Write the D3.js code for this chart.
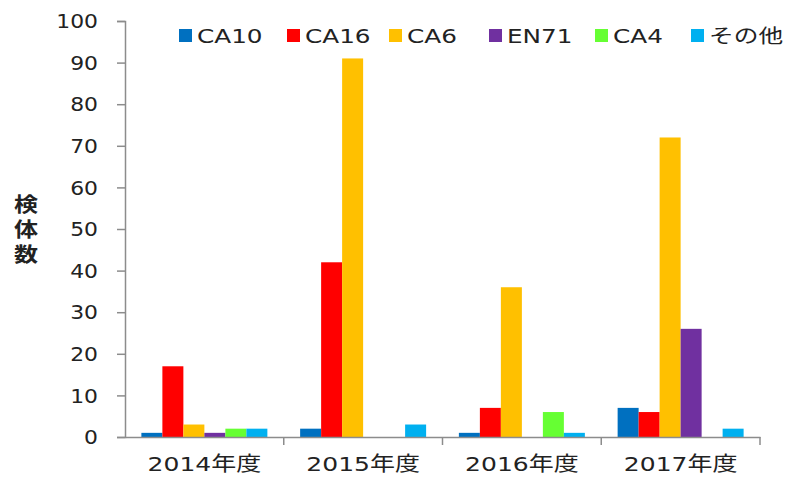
<!DOCTYPE html>
<html>
<head>
<meta charset="utf-8">
<script src="https://cdn.jsdelivr.net/npm/d3@7"></script>
<style>
body{margin:0;background:#fff;}
text{font-family:"DejaVu Sans","Noto Sans CJK JP",sans-serif;fill:#222;}
</style>
</head>
<body>
<svg class="chart"></svg>
<script>
var W = 795, H = 477;

// data
var years = ["2014年度","2015年度","2016年度","2017年度"];
var series = ["CA10","CA16","CA6","EN71","CA4","その他"];
var colors = ["#0070C0","#FF0000","#FFC000","#7030A0","#66FF33","#00B0F0"];
var CA10 = [1,2,1,7];
var CA16 = [17,42,7,6];
var CA6 = [3,91,36,72];
var EN71 = [1,0,0,26];
var CA4 = [2,0,6,0];
var other = [2,3,1,2];
var yTicks = [0,10,20,30,40,50,60,70,80,90,100];

var values = [CA10,CA16,CA6,EN71,CA4,other];

var svg = d3.select(".chart").attr("width",W).attr("height",H);

var mLeft = 125, mRight = 760, mTop = 21, mBottom = 437;

// the source picture is a bit wide, so stretch the texts sideways
var stretch = function(sel,k){
  sel.each(function(){
    var len = this.getComputedTextLength();
    d3.select(this).attr("textLength",len*k).attr("lengthAdjust","spacingAndGlyphs");
  });
};

var x0 = d3.scaleBand().domain(years).range([mLeft,mRight]).padding(0);
var x1 = d3.scaleBand().domain(series).range([0,x0.bandwidth()]).paddingOuter(0.78).paddingInner(0);
var y = d3.scaleLinear().domain([0,100]).range([mBottom,mTop]);

// bars
var groups = svg.selectAll("g.year")
  .data(years)
  .enter().append("g")
  .attr("class","year")
  .attr("transform",function(d){return "translate("+x0(d)+",0)";});

groups.selectAll("rect")
  .data(function(d,i){
    return series.map(function(s,k){return {s:s,v:values[k][i],c:colors[k]};});
  })
  .enter().append("rect")
  .attr("x",function(d){return x1(d.s);})
  .attr("width",x1.bandwidth())
  .attr("y",function(d){return y(d.v);})
  .attr("height",function(d){return mBottom-y(d.v);})
  .attr("fill",function(d){return d.c;});

// y axis
var yAxis = d3.axisLeft(y).tickValues(yTicks).tickSize(8).tickPadding(19);
var gy = svg.append("g").attr("transform","translate("+mLeft+",0)").call(yAxis);
gy.select(".domain").attr("stroke","#8c8c8c").attr("stroke-width",1.5);
gy.selectAll(".tick line").attr("stroke","#8c8c8c").attr("stroke-width",1.5);
gy.selectAll(".tick text").style("font-size","19px").attr("fill","#222").attr("dy","0.35em")
  .call(stretch,1.15);

// x axis
var xAxis = d3.axisBottom(x0).tickSize(0).tickPadding(20);
var gx = svg.append("g").attr("transform","translate(0,"+mBottom+")").call(xAxis);
gx.select(".domain").attr("stroke","#8c8c8c").attr("stroke-width",1.5);
gx.selectAll(".tick text").style("font-size","20px").attr("fill","#222")
  .call(stretch,1.25);
// category separators
svg.selectAll("line.sep")
  .data(years)
  .enter().append("line")
  .attr("class","sep")
  .attr("x1",function(d){return x0(d)+x0.bandwidth();})
  .attr("x2",function(d){return x0(d)+x0.bandwidth();})
  .attr("y1",mBottom).attr("y2",mBottom+8)
  .attr("stroke","#8c8c8c").attr("stroke-width",1.5);

// y title, stacked vertically
svg.append("g").selectAll("text")
  .data(["検","体","数"])
  .enter().append("text")
  .attr("x",26)
  .attr("y",function(d,i){return 212+i*25;})
  .attr("text-anchor","middle")
  .style("font-size","20px")
  .style("font-weight","bold")
  .text(function(d){return d;})
  .call(stretch,1.2);

// legend
var legX = [179,287,389,489,595,691];
var leg = svg.selectAll("g.leg")
  .data(series)
  .enter().append("g")
  .attr("class","leg")
  .attr("transform",function(d,i){return "translate("+legX[i]+",29)";});
leg.append("rect").attr("width",13).attr("height",13).attr("fill",function(d,i){return colors[i];});
leg.append("text").attr("x",18).attr("y",7).attr("dy","0.35em")
  .style("font-size","19px")
  .text(function(d){return d;})
  .call(stretch,1.3);
</script>
</body>
</html>
